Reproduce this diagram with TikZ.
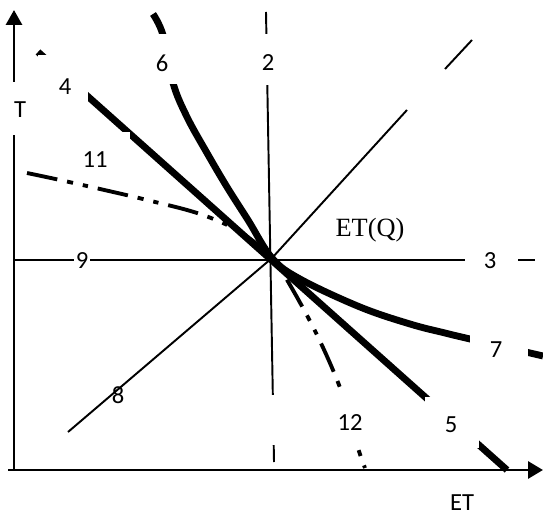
\documentclass[tikz,border=0pt]{standalone}
\usepackage{fontspec}
\setmainfont{Carlito}
\newfontfamily\serifnum{Liberation Serif}
\usetikzlibrary{arrows.meta}

\tikzset{
  axis/.style={line width=1.7pt},
  refline/.style={line width=1.1pt},
  bigcurve/.style={line width=3.9pt},
  dashdot/.style={line width=2.2pt, dash pattern=on 17.6pt off 5.7pt on 3.5pt off 5.7pt on 3pt off 5.7pt},
  mask/.style={fill=white},
  num/.style={font=\fontsize{14}{16}\selectfont, inner sep=0pt},
}

\begin{document}
\begin{tikzpicture}[x=0.02cm, y=-0.02cm]
    \useasboundingbox (0,0) rectangle (543,516);
    % axes
    \coordinate (O) at (14,470);
    \coordinate (Ytip) at (14,10);
    \coordinate (Xstart) at (8,470);
    \coordinate (Xtip) at (543,470);
    \draw[axis, -{Triangle[length=0.3cm, width=0.32cm]}] (O) -- (Ytip);
    \draw[axis, -{Triangle[length=0.3cm, width=0.34cm]}] (Xstart) -- (Xtip);

    % reference lines through the common point
    \coordinate (E) at (272,258);
    \draw[refline] (266,12) -- (274,462);
    \draw[line width=1.5pt] (14,260) -- (535,260);
    \draw[refline] (68,432) -- (E) -- (407,110);
    \draw[refline] (445,69) -- (472,40);

    % curves
    \draw[bigcurve] (38,52) -- (507,470);
    \draw[bigcurve] plot[smooth, tension=0.6] coordinates {(153,14) (163,35) (173,83) (187,117)
        (207,153) (227,187) (248,220) (E) (300,279) (360,307) (410,324) (445,333) (470,339) (543,356)};
    \draw[dashdot] plot[smooth, tension=0.6] coordinates {(27,173) (60,180) (100,189) (147,200)
        (200,214) (240,232) (E) (290,285) (318,337) (342,393) (357,445) (365,468)};

    % white label boxes
    \fill[mask] (4,82) rectangle (36,135);
    \fill[mask] (38,55) rectangle (88,110);
    \fill[mask] (88,55) rectangle (140,80);
    \fill[mask] (140,34) rectangle (190,84);
    \fill[mask] (254,34) rectangle (284,85);
    \fill[mask] (32,132) rectangle (130,170);
    \fill[mask] (465,245) rectangle (518,278);
    \fill[mask] (470,320) rectangle (528,372);
    \fill[mask] (262,395) rectangle (400,445);
    \fill[mask] (425,397) rectangle (479,448);

    % labels
    \node[num] (T) at (20,110) {T};
    \node[num] (L4) at (65,87) {4};
    \node[num] (L6) at (162,63) {6};
    \node[num] (L2) at (268,63) {2};
    \node[num] (L11) at (95,160) {11};
    \node[num, fill=white, inner sep=1pt] (L9) at (82,261) {9};
    \node[num] (L3) at (490,261) {3};
    \node[num] (L7) at (496,350) {7};
    \node[num] (L8) at (118,395) {8};
    \node[num] (L12) at (350,423) {12};
    \node[num] (L5) at (451,425) {5};
    \node[inner sep=0pt, font=\serifnum\fontsize{15}{17}\selectfont] (ETQ) at (370,230) {ET(Q)};
    \node[num] (ET) at (462,503) {ET};
\end{tikzpicture}
\end{document}
